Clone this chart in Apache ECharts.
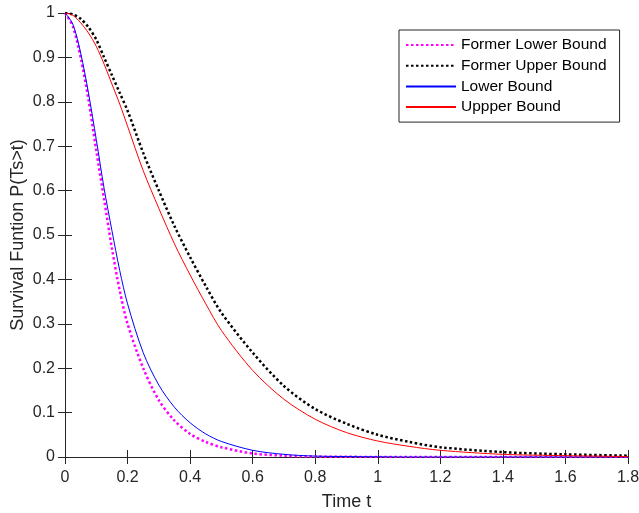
<!DOCTYPE html>
<html>
<head>
<meta charset="utf-8">
<script src="https://cdn.jsdelivr.net/npm/echarts@6/dist/echarts.min.js"></script>
<style>html,body{margin:0;padding:0;background:#fff;}#c{width:639px;height:513px;}</style>
</head>
<body>
<div id="c"></div>
<script>
const tGrid = [0, 0.025, 0.05, 0.075, 0.1, 0.125, 0.15, 0.175, 0.2, 0.25, 0.3, 0.35, 0.4, 0.45, 0.5, 0.6, 0.7, 0.8, 0.9, 1.0, 1.1, 1.2, 1.4, 1.6, 1.8];
const formerLower = [1, 0.97, 0.9, 0.805, 0.69, 0.58, 0.47, 0.375, 0.30, 0.2, 0.128, 0.082, 0.052, 0.034, 0.022, 0.008, 0.003, 0.001, 0.0005, 0, 0, 0, 0, 0, 0];
const formerUpper = [1, 0.997, 0.987, 0.968, 0.94, 0.9, 0.86, 0.82, 0.78, 0.685, 0.60, 0.52, 0.45, 0.385, 0.325, 0.235, 0.16, 0.108, 0.075, 0.05, 0.034, 0.022, 0.011, 0.006, 0.003];
const lowerBound = [1, 0.975, 0.91, 0.82, 0.715, 0.605, 0.51, 0.42, 0.345, 0.235, 0.162, 0.112, 0.077, 0.052, 0.035, 0.015, 0.006, 0.002, 0.001, 0.0005, 0, 0, 0, 0, 0];
const upperBound = [1, 0.995, 0.978, 0.955, 0.925, 0.885, 0.84, 0.795, 0.745, 0.645, 0.56, 0.48, 0.41, 0.345, 0.285, 0.195, 0.13, 0.085, 0.055, 0.036, 0.024, 0.015, 0.006, 0.003, 0.001];
const seriesNames = ['Former Lower Bound', 'Former Upper Bound', 'Lower Bound', 'Uppper Bound'];
const xTicks = {min: 0, max: 1.8, interval: 0.2};
const yTicks = {min: 0, max: 1, interval: 0.1};

const pair = arr => tGrid.map((t, i) => [t, arr[i]]);
const axisCol = '#262626';
const font = 'Liberation Sans, Arial, Helvetica, sans-serif';
const chart = echarts.init(document.getElementById('c'), null, {renderer: 'canvas'});
const baseAxisLine = {show: true, lineStyle: {color: axisCol, width: 1}};
const tick = {show: true, inside: true, length: 7, lineStyle: {color: axisCol, width: 1}};
chart.setOption({
  animation: false,
  backgroundColor: '#fff',
  grid: {left: 65, right: 11, top: 13, bottom: 56, containLabel: false, outerBoundsMode: 'none'},
  legend: {
    orient: 'vertical', left: 399, top: 30,
    itemWidth: 50, itemHeight: 14, itemGap: 4.7,
    padding: [7, 13, 7, 6],
    backgroundColor: '#fff', borderColor: axisCol, borderWidth: 1,
    itemStyle: {opacity: 0},
    textStyle: {fontFamily: font, fontSize: 15.5, lineHeight: 14, color: '#000'},
    data: seriesNames
  },
  xAxis: [
    {type: 'value', min: xTicks.min, max: xTicks.max, interval: xTicks.interval, position: 'bottom',
     name: 'Time t', nameLocation: 'middle', nameGap: 36, nameMoveOverlap: false,
     nameTextStyle: {fontFamily: font, fontSize: 18, color: axisCol},
     axisLine: baseAxisLine, axisTick: tick, splitLine: {show: false},
     axisLabel: {fontFamily: font, fontSize: 16, color: axisCol, margin: 13}},
    {type: 'value', min: xTicks.min, max: xTicks.max, interval: xTicks.interval, position: 'top',
     axisLine: baseAxisLine, axisTick: tick, splitLine: {show: false}, axisLabel: {show: false}}
  ],
  yAxis: [
    {type: 'value', min: yTicks.min, max: yTicks.max, interval: yTicks.interval, position: 'left',
     name: 'Survival Funtion P(Ts>t)', nameLocation: 'middle', nameGap: 38, nameMoveOverlap: false,
     nameTextStyle: {fontFamily: font, fontSize: 18, color: axisCol},
     axisLine: baseAxisLine, axisTick: tick, splitLine: {show: false},
     axisLabel: {fontFamily: font, fontSize: 16, color: axisCol, margin: 10}},
    {type: 'value', min: yTicks.min, max: yTicks.max, interval: yTicks.interval, position: 'right',
     axisLine: baseAxisLine, axisTick: tick, splitLine: {show: false}, axisLabel: {show: false}}
  ],
  series: [
    {name: seriesNames[0], type: 'line', data: pair(formerLower), symbol: 'none', smooth: 0.3,
     lineStyle: {color: '#ff00ff', width: 2.5, type: [2.5, 2.5], cap: 'butt'}, itemStyle: {color: '#ff00ff'}},
    {name: seriesNames[1], type: 'line', data: pair(formerUpper), symbol: 'none', smooth: 0.3,
     lineStyle: {color: '#000000', width: 2.5, type: [2.5, 2.5], cap: 'butt'}, itemStyle: {color: '#000000'}},
    {name: seriesNames[2], type: 'line', data: pair(lowerBound), symbol: 'none', smooth: 0.3,
     lineStyle: {color: '#0000ff', width: 1}, itemStyle: {color: '#0000ff'}},
    {name: seriesNames[3], type: 'line', data: pair(upperBound), symbol: 'none', smooth: 0.3,
     lineStyle: {color: '#ff0000', width: 1}, itemStyle: {color: '#ff0000'}}
  ]
});
</script>
</body>
</html>
